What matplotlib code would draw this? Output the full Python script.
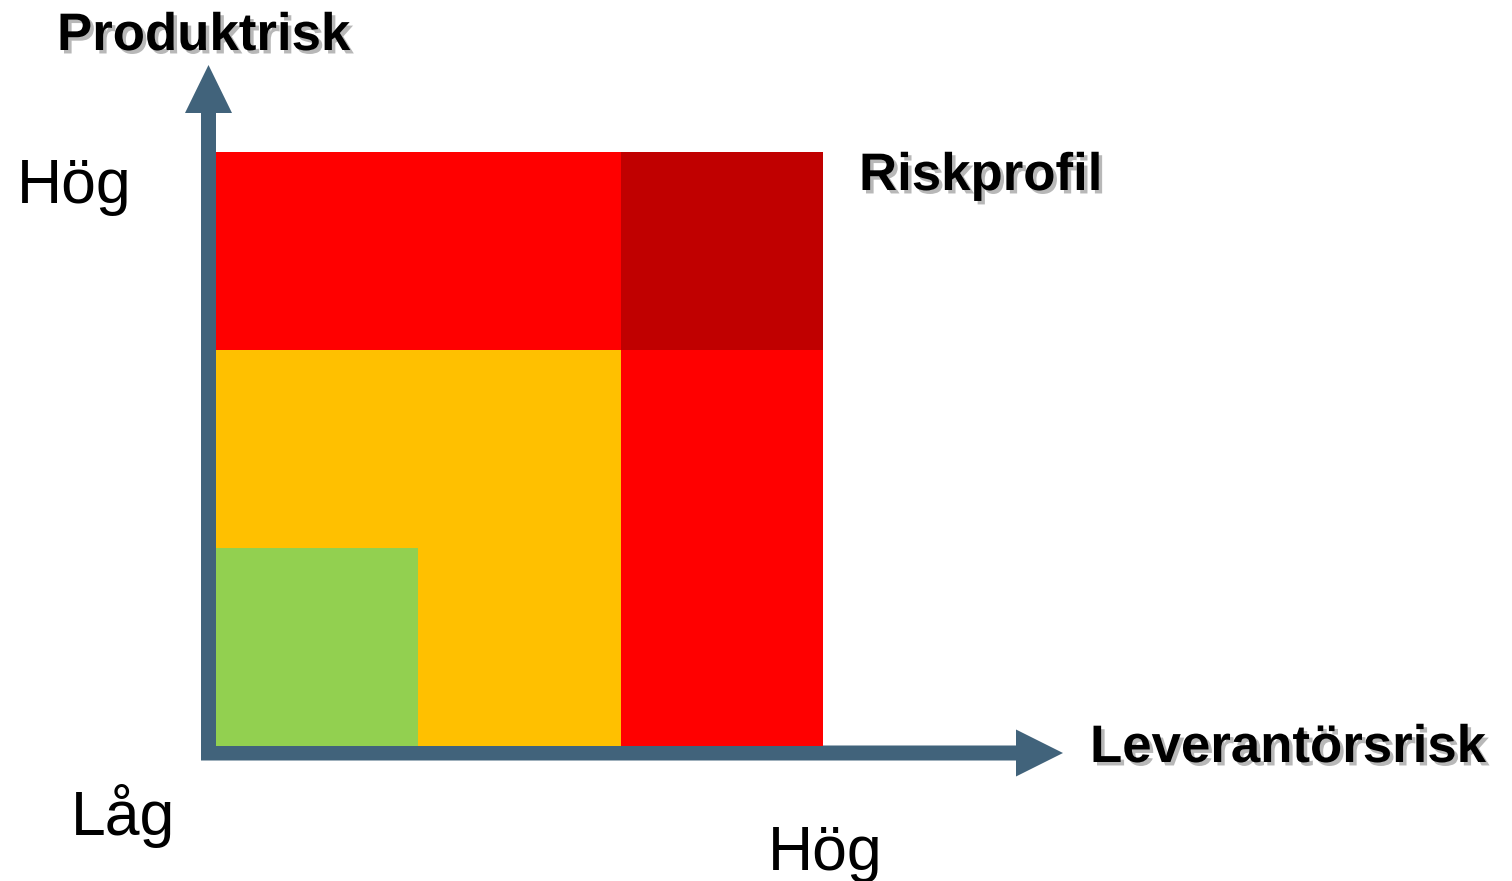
import matplotlib.pyplot as plt
import matplotlib.patheffects as pe
import numpy as np
from matplotlib.colors import ListedColormap
from matplotlib.patches import FancyArrow

plt.rcParams['font.family'] = ['Liberation Sans', 'DejaVu Sans']

# Risk level per cell, rows from low to high product risk,
# columns from low to high supplier risk
risk_levels = np.array([[1, 2, 3],
                        [2, 2, 3],
                        [3, 3, 4]])
level_colors = ['#92D050', '#FFC000', '#FF0000', '#C00000']

y_title = 'Produktrisk'
x_title = 'Leverantörsrisk'
chart_title = 'Riskprofil'
high_label = 'Hög'
low_label = 'Låg'

axis_color = '#41637B'

W, H = 1512, 881
fig = plt.figure(figsize=(W / 100, H / 100), dpi=100)
fig.patch.set_facecolor('white')

# overlay in pixel coordinates for arrows and labels
ov = fig.add_axes([0, 0, 1, 1])
ov.set_xlim(0, W)
ov.set_ylim(H, 0)
ov.axis('off')

# vertical axis arrow
ov.add_patch(FancyArrow(208.5, 760, 0, -695, width=15, head_width=47, head_length=48,
                        length_includes_head=True, color=axis_color, lw=0))
# horizontal axis arrow
ov.add_patch(FancyArrow(201, 753, 862, 0, width=15, head_width=47, head_length=47,
                        length_includes_head=True, color=axis_color, lw=0))

shadow = [pe.withSimplePatchShadow(offset=(2.5, -2.5), shadow_rgbFace='#9a9a9a', alpha=0.7)]
bold = dict(fontsize=38, fontweight='bold', color='black', va='baseline', path_effects=shadow)
ov.text(57, 50, y_title, ha='left', **bold)
ov.text(859, 190, chart_title, ha='left', **bold)
ov.text(1090, 762, x_title, ha='left', **bold)

reg = dict(fontsize=45, color='black', va='baseline')
ov.text(17, 203, high_label, ha='left', **reg)
ov.text(71, 835, low_label, ha='left', **reg)
ov.text(768, 870, high_label, ha='left', **reg)

# risk grid
gx0, gx1, gy0, gy1 = 216, 823, 152, 746
ax = fig.add_axes([gx0 / W, 1 - gy1 / H, (gx1 - gx0) / W, (gy1 - gy0) / H])
ax.pcolormesh(np.arange(4), np.arange(4), risk_levels,
              cmap=ListedColormap(level_colors), vmin=0.5, vmax=4.5)
ax.set_xlim(0, 3)
ax.set_ylim(0, 3)
ax.axis('off')

fig.savefig('out.png', dpi=100)
